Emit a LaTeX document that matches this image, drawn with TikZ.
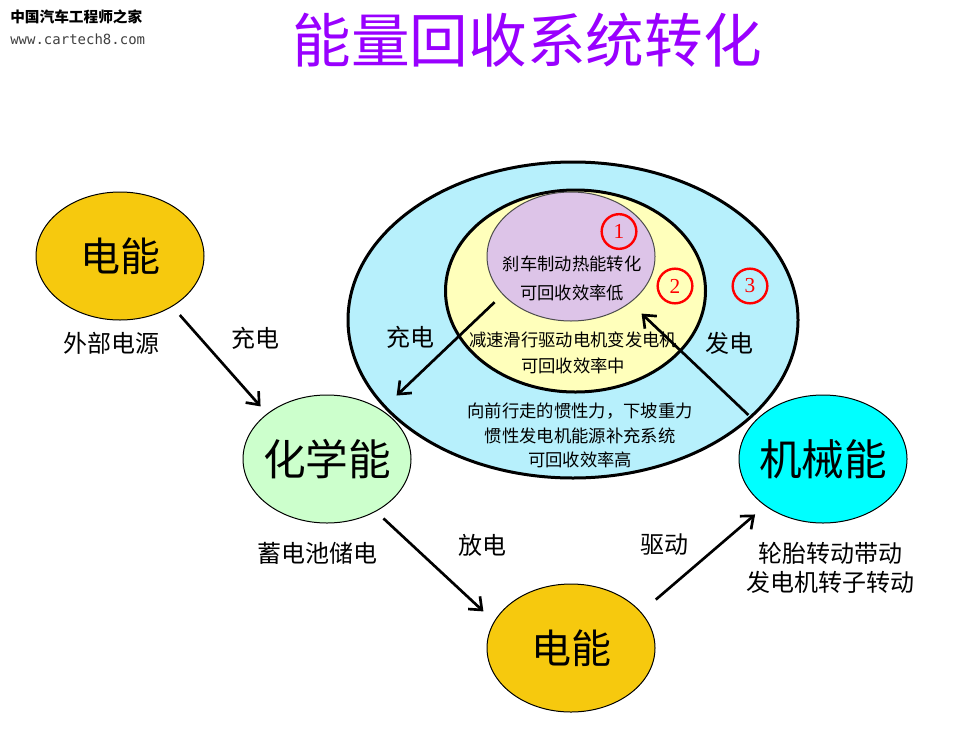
\documentclass[tikz,border=0pt]{standalone}
\usepackage{fontspec}
\setmainfont{Noto Sans CJK SC}
\newfontfamily\numfont{Liberation Serif}
\newfontfamily\webfont{DejaVu Sans Mono}
\usepackage{xcolor}
\usepackage{tikz}
\usetikzlibrary{shapes.geometric, arrows.meta}
\definecolor{titlepurple}{HTML}{9900FF}
\definecolor{ringblue}{HTML}{B7F0FC}
\definecolor{ringyellow}{HTML}{FFFFBB}
\definecolor{brakepurple}{HTML}{DDC4E8}
\definecolor{elecgold}{HTML}{F6C90E}
\definecolor{chemgreen}{HTML}{CCFFCC}
\definecolor{mechcyan}{HTML}{00FFFF}
\tikzset{>={Straight Barb[length=8pt,width=13pt]}}
\tikzset{
  energy/.style={ellipse, draw=black, line width=0.75pt, minimum width=126pt, minimum height=96pt, inner sep=-8pt, outer sep=0pt, font=\fontsize{30}{36}\selectfont},
  ring/.style={ellipse, draw=black, line width=2.25pt, inner sep=0pt, outer sep=0pt},
  flow/.style={->, line width=2pt},
  lbl/.style={font=\fontsize{18}{21.75}\selectfont, inner sep=0pt, align=center},
  note/.style={font=\fontsize{13}{#1}\selectfont, align=center, inner sep=0pt},
  numcirc/.style={circle, draw=red, line width=1.8pt, minimum size=26pt, inner sep=0pt, text=red, font=\numfont\fontsize{16}{18}\selectfont},
}

\begin{document}
\begin{tikzpicture}[x=0.75pt, y=-0.75pt]
    \fill[white] (0, 0) rectangle (962, 739);
    \useasboundingbox (0, 0) rectangle (962, 739);

    % watermark and title
    \node[anchor=west, inner sep=0pt, font=\bfseries\fontsize{11}{13}\selectfont] (brand) at (10, 16.5) {中国汽车工程师之家};
    \node[anchor=west, inner sep=0pt, text=black!75, font=\webfont\fontsize{10.5}{12}\selectfont] (site) at (10, 39) {www.cartech8.com};
    \node[inner sep=0pt, text=titlepurple, font=\fontsize{44}{50}\selectfont] (title) at (527, 40) {能量回收系统转化};

    % recovery rings
    \node[ring, fill=ringblue, minimum width=337.5pt, minimum height=237pt] (inertia) at (573, 320) {};
    \node[ring, fill=ringyellow, minimum width=195pt, minimum height=151.5pt] (coast) at (575.5, 291) {};
    \node[ellipse, draw=black!70, line width=0.75pt, fill=brakepurple, minimum width=126pt, minimum height=96.75pt, inner sep=0pt, outer sep=0pt] (brake) at (571, 256.5) {};

    \node[numcirc] (n1) at (619, 231.5) {1};
    \node[numcirc] (n2) at (675, 286) {2};
    \node[numcirc] (n3) at (750, 286) {3};

    \node[note=21.75pt] (brakeNote) at (572, 278.5) {刹车制动热能转化\\可回收效率低};
    \node[note=19.5pt] (coastNote) at (573, 353) {减速滑行驱动电机变发电机\\可回收效率中};
    \node[note=18.4pt] (inertiaNote) at (580, 435.5) {向前行走的惯性力，下坡重力\\惯性发电机能源补充系统\\可回收效率高};

    % energy forms
    \node[energy, fill=elecgold] (grid) at (120, 256) {电能};
    \node[energy, fill=chemgreen, font=\fontsize{32}{36}\selectfont] (chem) at (327, 459) {化学能};
    \node[energy, fill=elecgold] (elec) at (571, 648) {电能};
    \node[energy, fill=mechcyan, font=\fontsize{32}{36}\selectfont] (mech) at (823, 459) {机械能};

    \draw[flow, shorten <=8.8pt, shorten >=7.6pt] (grid.-44.5) -- (chem.143);
    \draw[flow, shorten <=8pt, shorten >=11.3pt] (chem.-47) -- (elec.161.2);
    \draw[flow, shorten <=14.8pt, shorten >=10.2pt] (elec.27.3) -- (mech.219.9);
    \draw[flow, shorten <=6.9pt, shorten >=12.1pt] (mech.151.1) -- (brake.-38.5);
    \draw[flow, shorten <=8.6pt, shorten >=15.9pt] (brake.209.1) -- (chem.42);

    % labels
    \node[lbl] (gridNote) at (111, 343) {外部电源};
    \node[lbl] (chargeA) at (255.5, 338) {充电};
    \node[lbl] (chargeB) at (410, 337) {充电};
    \node[lbl] (generate) at (729.5, 343) {发电};
    \node[lbl] (chemNote) at (317, 553) {蓄电池储电};
    \node[lbl] (discharge) at (482, 545) {放电};
    \node[lbl] (drive) at (664.5, 545) {驱动};
    \node[lbl] (mechNote) at (830, 567.5) {轮胎转动带动\\发电机转子转动};

\end{tikzpicture}
\end{document}
